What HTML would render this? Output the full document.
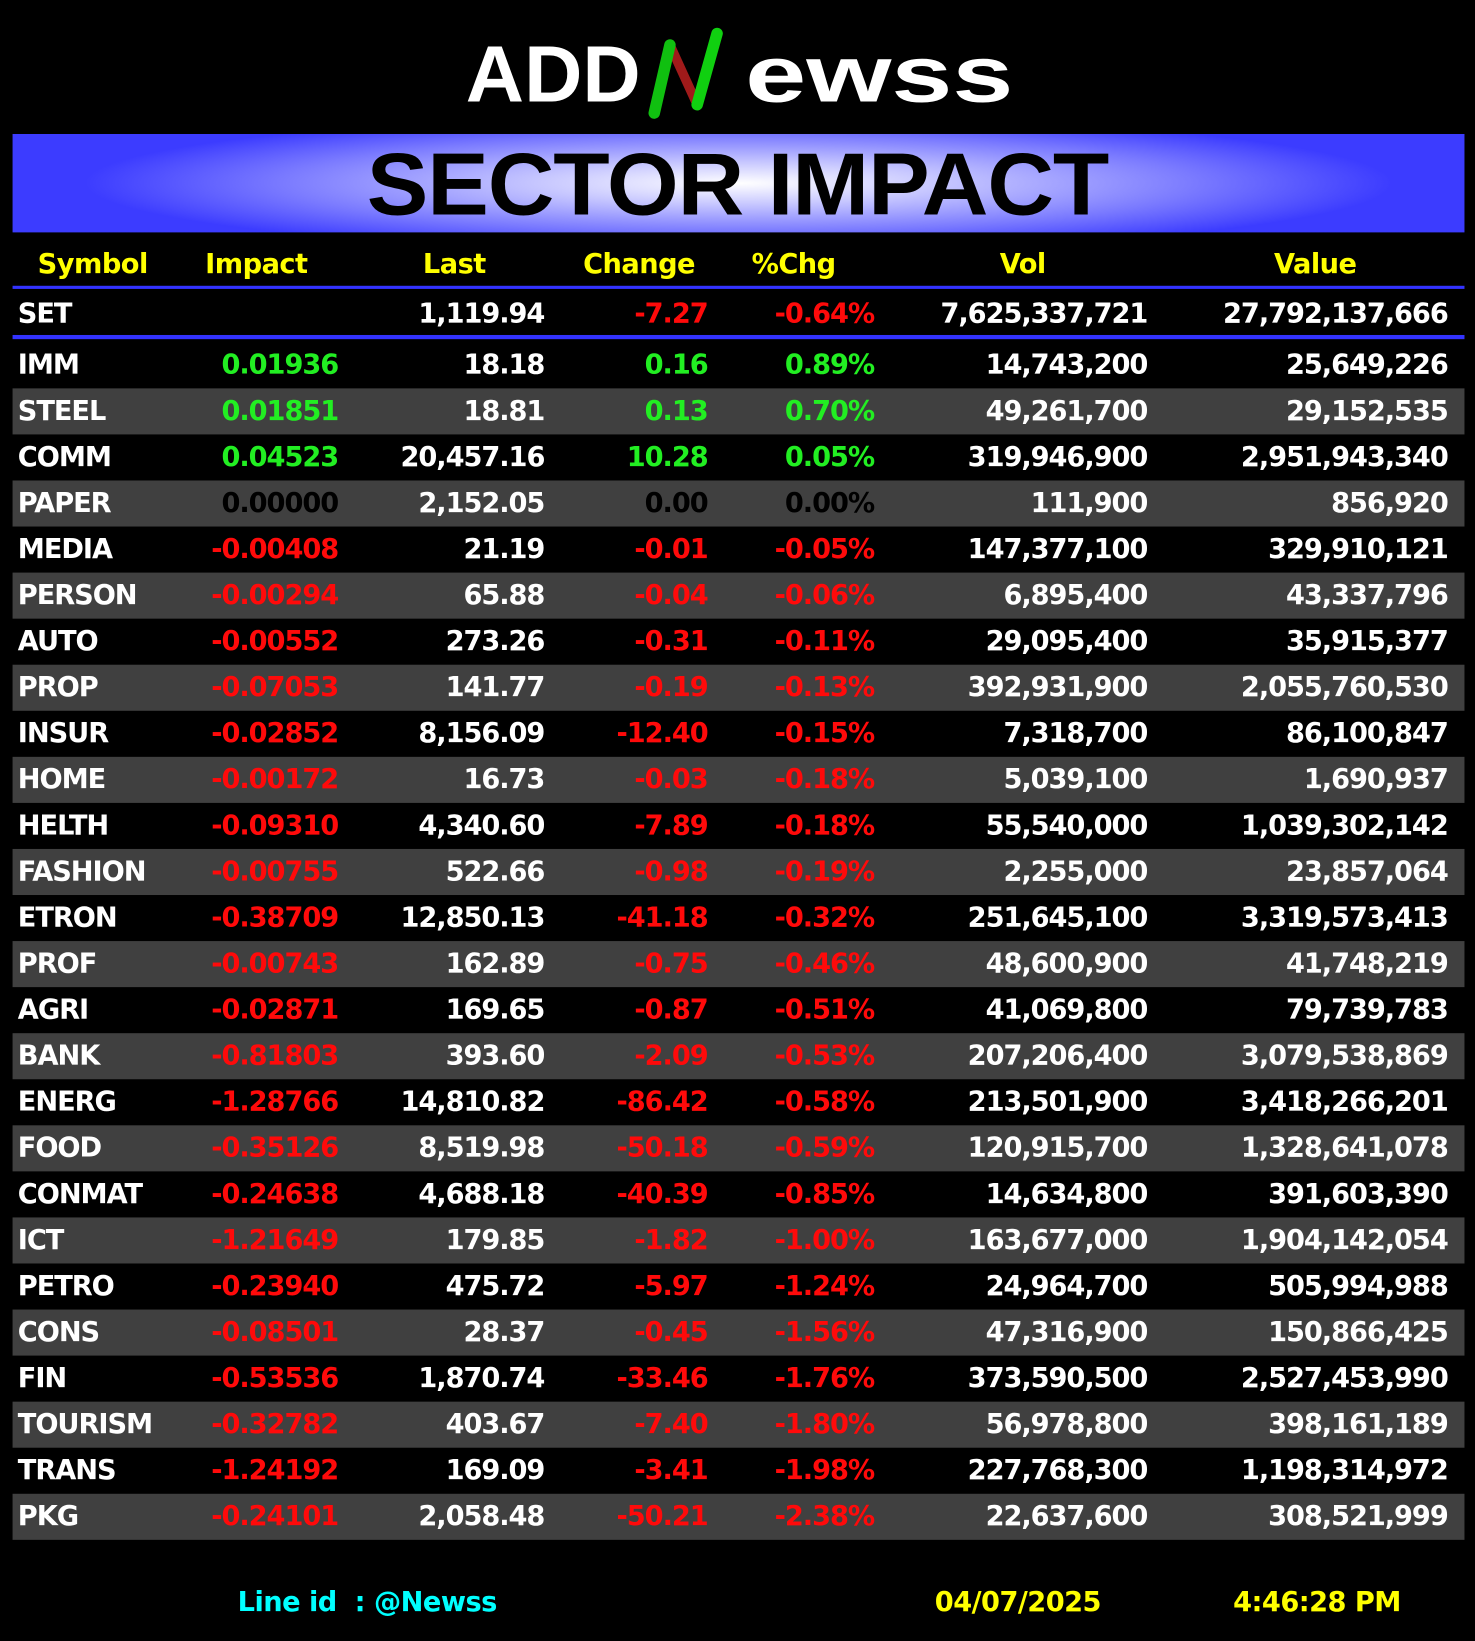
<!DOCTYPE html>
<html><head><meta charset="utf-8">
<style>
html,body{margin:0;padding:0;background:#000;}
body{width:1475px;height:1641px;overflow:hidden;}
#wrap{position:absolute;left:0;top:0;width:1409px;height:1568px;transform:scale(1.0468);transform-origin:0 0;background:#000;font-family:"DejaVu Sans","Liberation Sans",sans-serif;font-weight:bold;}
.abs{position:absolute;}
#banner{left:12px;top:128px;width:1387px;height:94px;background:radial-gradient(ellipse 45% 70% at 50% 50%,#ffffff 0%,#c8c8ff 30%,#7a7aff 70%,#3c3cff 100%);}
#title{left:0;top:128px;width:1409px;height:94px;line-height:96px;text-align:center;font-family:"Liberation Sans",sans-serif;font-size:84px;color:#000;letter-spacing:-1px;transform:scaleX(1.05);}
.hdr{top:236px;font-size:26px;color:#ffff00;letter-spacing:-0.5px;line-height:34px;}
.cell{position:absolute;font-size:26px;letter-spacing:-1px;line-height:44px;white-space:nowrap;}
.r{text-align:right;}
.bline{left:12px;width:1387px;background:#3333ff;}
.foot{top:1514px;font-size:26px;line-height:34px;letter-spacing:-0.5px;}
</style></head>
<body>
<div id="wrap">
  <svg class="abs" style="left:440px;top:20px" width="540" height="100">
    <text x="5" y="77" font-family="Liberation Sans, sans-serif" font-weight="bold" font-size="76" fill="#fff" textLength="167" lengthAdjust="spacingAndGlyphs">ADD</text>
    <line x1="200" y1="23" x2="226" y2="80" stroke="#a01a1a" stroke-width="9" stroke-linecap="round"/>
    <line x1="185" y1="88" x2="200" y2="23" stroke="#10c010" stroke-width="11" stroke-linecap="round"/>
    <line x1="226" y1="80" x2="245" y2="12" stroke="#10d010" stroke-width="11" stroke-linecap="round"/>
    <text x="272" y="77" font-family="Liberation Sans, sans-serif" font-weight="bold" font-size="76" fill="#fff" textLength="256" lengthAdjust="spacingAndGlyphs">ewss</text>
  </svg>
  <div id="banner" class="abs"></div>
  <div id="title" class="abs">SECTOR IMPACT</div>

  <div class="abs hdr" style="left:36px">Symbol</div>
  <div class="abs hdr" style="left:196px">Impact</div>
  <div class="abs hdr" style="left:404px">Last</div>
  <div class="abs hdr" style="left:557px">Change</div>
  <div class="abs hdr" style="left:718px">%Chg</div>
  <div class="abs hdr" style="left:955px">Vol</div>
  <div class="abs hdr" style="left:1217px">Value</div>
  <div class="abs bline" style="top:273px;height:3px"></div>
  <div class="abs bline" style="top:320px;height:4px"></div>

  <div id="rows"></div>

  <div class="abs foot" style="left:227px;color:#00ffff">Line id &nbsp;: @Newss</div>
  <div class="abs foot" style="left:893px;color:#ffff00">04/07/2025</div>
  <div class="abs foot" style="left:1178px;color:#ffff00">4:46:28 PM</div>
</div>
<script>
const symbols=["SET","IMM","STEEL","COMM","PAPER","MEDIA","PERSON","AUTO","PROP","INSUR","HOME","HELTH","FASHION","ETRON","PROF","AGRI","BANK","ENERG","FOOD","CONMAT","ICT","PETRO","CONS","FIN","TOURISM","TRANS","PKG"];
const impacts=["","0.01936","0.01851","0.04523","0.00000","-0.00408","-0.00294","-0.00552","-0.07053","-0.02852","-0.00172","-0.09310","-0.00755","-0.38709","-0.00743","-0.02871","-0.81803","-1.28766","-0.35126","-0.24638","-1.21649","-0.23940","-0.08501","-0.53536","-0.32782","-1.24192","-0.24101"];
const lasts=["1,119.94","18.18","18.81","20,457.16","2,152.05","21.19","65.88","273.26","141.77","8,156.09","16.73","4,340.60","522.66","12,850.13","162.89","169.65","393.60","14,810.82","8,519.98","4,688.18","179.85","475.72","28.37","1,870.74","403.67","169.09","2,058.48"];
const changes=["-7.27","0.16","0.13","10.28","0.00","-0.01","-0.04","-0.31","-0.19","-12.40","-0.03","-7.89","-0.98","-41.18","-0.75","-0.87","-2.09","-86.42","-50.18","-40.39","-1.82","-5.97","-0.45","-33.46","-7.40","-3.41","-50.21"];
const pcts=["-0.64%","0.89%","0.70%","0.05%","0.00%","-0.05%","-0.06%","-0.11%","-0.13%","-0.15%","-0.18%","-0.18%","-0.19%","-0.32%","-0.46%","-0.51%","-0.53%","-0.58%","-0.59%","-0.85%","-1.00%","-1.24%","-1.56%","-1.76%","-1.80%","-1.98%","-2.38%"];
const vols=["7,625,337,721","14,743,200","49,261,700","319,946,900","111,900","147,377,100","6,895,400","29,095,400","392,931,900","7,318,700","5,039,100","55,540,000","2,255,000","251,645,100","48,600,900","41,069,800","207,206,400","213,501,900","120,915,700","14,634,800","163,677,000","24,964,700","47,316,900","373,590,500","56,978,800","227,768,300","22,637,600"];
const values=["27,792,137,666","25,649,226","29,152,535","2,951,943,340","856,920","329,910,121","43,337,796","35,915,377","2,055,760,530","86,100,847","1,690,937","1,039,302,142","23,857,064","3,319,573,413","41,748,219","79,739,783","3,079,538,869","3,418,266,201","1,328,641,078","391,603,390","1,904,142,054","505,994,988","150,866,425","2,527,453,990","398,161,189","1,198,314,972","308,521,999"];

function colorOf(v){const n=parseFloat(v);if(v===""||isNaN(n))return "#fff";if(n>0)return "#22ee22";if(n<0)return "#ff0a0a";return "#000";}
function rowTop(i){return i===0?278:327+(i-1)*44;}
const rows=document.getElementById('rows');
function addCell(txt,left,right,color,name,top){
  const d=document.createElement('div');
  d.className='cell'+(right!==null?' r':'');
  d.style.top=top+'px';
  if(right!==null){d.style.right=(1409-right)+'px';}else{d.style.left=left+'px';}
  d.style.color=color;
  d.textContent=txt;
  
  
  rows.appendChild(d);
}
symbols.forEach((s,i)=>{
  const top=rowTop(i);
  if(i>0&&i%2===0){
    const bg=document.createElement('div');
    bg.className='abs';
    bg.style.cssText='left:12px;width:1387px;height:44px;background:#404040;top:'+top+'px';
    
    
    rows.appendChild(bg);
  }
  const key=s.toLowerCase();
  const chgColor=colorOf(changes[i]);
  addCell(s,17,null,'#fff','symbol-'+key,top);
  addCell(impacts[i],null,323,colorOf(impacts[i]),'impact-'+key,top);
  addCell(lasts[i],null,520,'#fff','last-'+key,top);
  addCell(changes[i],null,676,chgColor,'change-'+key,top);
  addCell(pcts[i],null,835,chgColor,'pctchg-'+key,top);
  addCell(vols[i],null,1096,'#fff','vol-'+key,top);
  addCell(values[i],null,1383,'#fff','value-'+key,top);
});
</script>
</body></html>
